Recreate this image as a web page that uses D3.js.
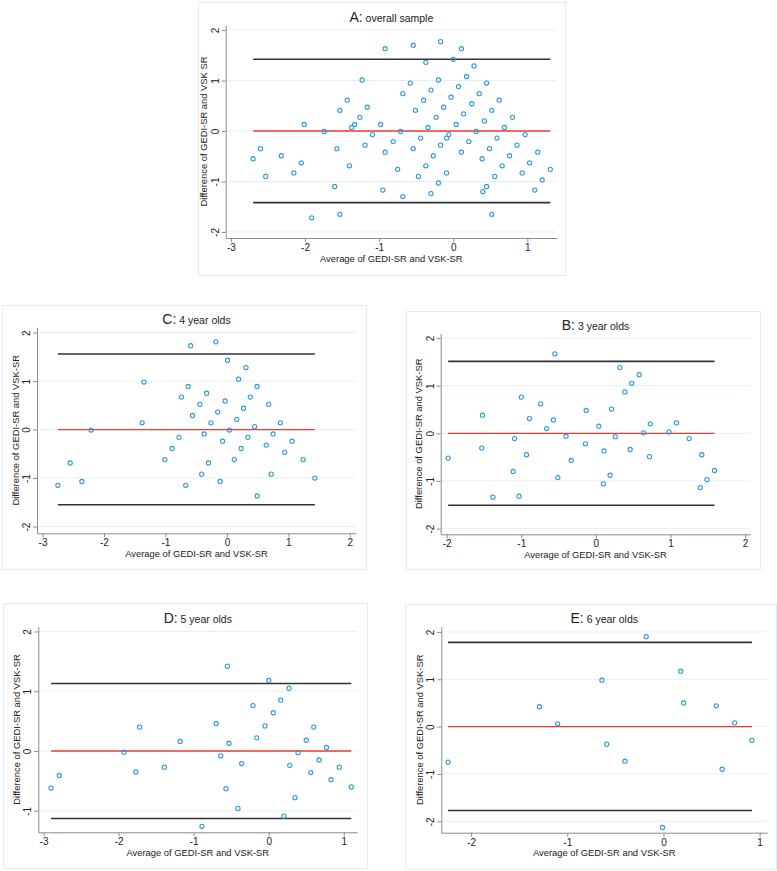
<!DOCTYPE html>
<html>
<head>
<meta charset="utf-8">
<script src="https://cdn.jsdelivr.net/npm/d3@7"></script>
<style>
  body { margin: 0; background: #fff; }
  text { font-family: "Liberation Sans", Arial, Helvetica, sans-serif; fill: #222; }
</style>
</head>
<body>
<div id="chart"></div>
<script>
// ---- data ----
const avgA = [-0.92,-0.54,-0.17,0.11,-0.37,0.00,0.28,-1.23,-0.20,0.18,0.45,-0.58,-0.68,-0.30,0.07,0.35,
  -1.43,-0.40,-0.03,0.62,-1.53,-1.16,-0.51,-0.13,0.25,0.52,-1.26,-0.23,0.14,0.80,-2.01,-1.37,-1.33,-0.98,
  -0.34,0.04,0.42,0.69,-1.74,-0.71,0.31,-1.09,-0.06,0.97,-0.81,-0.44,-0.09,0.59,-2.60,-1.57,-1.19,-0.54,
  -0.17,0.21,0.49,0.86,-2.70,-2.32,-0.92,-0.27,0.11,0.76,1.14,-2.05,-1.40,-0.37,0.39,0.66,1.03,-2.53,
  -2.15,-0.75,-0.47,-0.09,0.56,0.93,1.31,-1.60,-0.20,0.45,1.20,-0.95,-0.30,0.40,1.10,-0.68,-1.91,-1.53,0.52];
const diffA = [1.63,1.70,1.77,1.63,1.36,1.42,1.29,1.01,1.01,1.08,0.95,0.95,0.74,0.81,0.88,0.74,
  0.61,0.61,0.67,0.61,0.41,0.47,0.41,0.47,0.54,0.41,0.27,0.27,0.34,0.27,0.13,0.07,0.13,0.13,
  0.07,0.13,0.20,0.07,-0.01,-0.01,-0.01,-0.07,-0.07,-0.07,-0.21,-0.14,-0.14,-0.14,-0.35,-0.35,-0.28,-0.35,
  -0.28,-0.21,-0.35,-0.28,-0.55,-0.49,-0.42,-0.49,-0.42,-0.49,-0.42,-0.63,-0.69,-0.69,-0.55,-0.69,-0.63,-0.90,
  -0.83,-0.76,-0.90,-0.83,-0.90,-0.83,-0.76,-1.10,-1.03,-1.10,-0.97,-1.17,-1.24,-1.20,-1.17,-1.30,-1.72,-1.65,-1.65];

const avgC = [-2.75,-2.55,-2.36,-2.21,-1.35,-1.38,-0.59,-0.18,0.01,0.31,0.19,-0.63,0.49,-0.74,-0.33,0.38,
  -0.44,-0.03,0.68,-0.56,-0.15,0.27,0.16,-0.26,0.87,0.45,0.04,-0.78,-0.37,0.34,0.75,-0.89,-0.07,0.64,1.06,
  0.94,0.23,-1.01,-0.30,0.12,1.24,-0.41,0.72,-0.67,-0.11,1.43,0.49];
const diffC = [-1.15,-0.69,-1.07,-0.01,0.98,0.14,1.73,1.81,1.43,1.28,1.04,0.89,0.89,0.67,0.75,0.67,
  0.52,0.59,0.52,0.29,0.36,0.44,0.21,0.14,0.14,0.06,-0.01,-0.16,-0.09,-0.16,-0.09,-0.39,-0.24,-0.32,-0.24,
  -0.47,-0.39,-0.62,-0.69,-0.62,-0.62,-0.92,-0.92,-1.15,-1.07,-1.00,-1.37];

const avgB = [-1.98,-1.52,-1.53,-1.38,-1.11,-1.09,-1.03,-1.00,-0.93,-0.89,-0.74,-0.66,-0.57,-0.55,-0.51,-0.40,
  -0.33,-0.14,-0.13,0.04,0.10,0.11,0.19,0.21,0.26,0.32,0.39,0.46,0.48,0.58,0.64,0.72,0.73,0.98,1.08,1.25,
  1.40,1.42,1.49,1.59];
const diffB = [-0.52,0.38,-0.31,-1.34,-0.80,-0.11,-1.32,0.76,-0.45,0.31,0.62,0.10,0.28,1.67,-0.93,-0.06,
  -0.57,-0.22,0.48,0.15,-1.06,-0.37,-0.88,0.51,-0.07,1.38,0.87,-0.34,1.05,1.23,0.01,-0.49,0.20,0.03,0.22,-0.11,
  -1.14,-0.45,-0.97,-0.78];

const avgD = [-2.90,-2.79,-1.93,-1.77,-1.72,-1.39,-1.18,-0.89,-0.70,-0.64,-0.57,-0.55,-0.53,-0.41,-0.36,-0.21,
  -0.16,-0.05,0.00,0.06,0.16,0.20,0.27,0.28,0.35,0.39,0.50,0.56,0.60,0.67,0.77,0.83,0.94,1.10];
const diffD = [-0.62,-0.41,-0.02,-0.35,0.40,-0.27,0.16,-1.26,0.46,-0.08,-0.63,1.42,0.13,-0.96,-0.21,0.76,
  0.22,0.42,1.18,0.64,0.85,-1.09,1.05,-0.24,-0.78,-0.03,0.18,-0.36,0.40,-0.15,0.06,-0.48,-0.27,-0.60];

const avgE = [-2.24,-1.29,-1.10,-0.64,-0.59,-0.40,-0.18,-0.01,0.18,0.21,0.55,0.61,0.74,0.92];
const diffE = [-0.75,0.42,0.06,0.98,-0.37,-0.73,1.90,-2.13,1.17,0.50,0.44,-0.90,0.08,-0.29];

// mean difference and limits of agreement
const meanDiff = { A: 0, C: 0, B: 0, D: 0, E: 0 };
const loaA = [-1.42, 1.42];
const loaC = [-1.55, 1.56];
const loaB = [-1.51, 1.51];
const loaD = [-1.13, 1.13];
const loaE = [-1.77, 1.78];

// tick labels
const xTicksA = [-3, -2, -1, 0, 1];
const xTicksC = [-3, -2, -1, 0, 1, 2];
const xTicksB = [-2, -1, 0, 1, 2];
const xTicksD = [-3, -2, -1, 0, 1];
const xTicksE = [-2, -1, 0, 1];
const yTicks4 = [-2, -1, 0, 1, 2];
const yTicksD = [-1, 0, 1, 2];

const xTitle = 'Average of GEDI-SR and VSK-SR';

// ---- layout ----
const W = 777, H = 871;
const panels = [
  { key: 'A', letter: 'A:', sub: 'overall sample', avg: avgA, diff: diffA, loa: loaA,
    xTicks: xTicksA, yTicks: yTicks4, yTitle: 'Difference of GEDI-SR and VSK SR',
    box: [198, 2, 565, 275], plot: [225.7, 25, 557, 238], xDom: [-3.07, 1.40], yDom: [-2.12, 2.10] },
  { key: 'C', letter: 'C:', sub: '4 year olds', avg: avgC, diff: diffC, loa: loaC,
    xTicks: xTicksC, yTicks: yTicks4, yTitle: 'Difference of GEDI-SR and VSK-SR',
    box: [2, 305, 366, 569], plot: [37, 327.3, 356, 533.3], xDom: [-3.09, 2.10], yDom: [-2.14, 2.11] },
  { key: 'B', letter: 'B:', sub: '3 year olds', avg: avgB, diff: diffB, loa: loaB,
    xTicks: xTicksB, yTicks: yTicks4, yTitle: 'Difference of GEDI-SR and VSK-SR',
    box: [406, 311, 760, 569], plot: [440.7, 333.3, 750.3, 534.3], xDom: [-2.08, 2.07], yDom: [-2.12, 2.10] },
  { key: 'D', letter: 'D:', sub: '5 year olds', avg: avgD, diff: diffD, loa: loaD,
    xTicks: xTicksD, yTicks: yTicksD, yTitle: 'Difference of GEDI-SR and VSK-SR',
    box: [3, 603, 367, 868], plot: [38.3, 626.7, 357.3, 832.3], xDom: [-3.07, 1.18], yDom: [-1.36, 2.08] },
  { key: 'E', letter: 'E:', sub: '6 year olds', avg: avgE, diff: diffE, loa: loaE,
    xTicks: xTicksE, yTicks: yTicks4, yTitle: 'Difference of GEDI-SR and VSK-SR',
    box: [405, 604, 776, 869], plot: [441.3, 626.7, 767.3, 832.7], xDom: [-2.31, 1.08], yDom: [-2.24, 2.11] }
];

const svg = d3.select('#chart').append('svg')
  .attr('width', W)
  .attr('height', H)
  .style('background-color', 'white');

panels.forEach(p => {
  const [l, t, r, b] = p.plot;
  const x = d3.scaleLinear().domain(p.xDom).range([l, r]);
  const y = d3.scaleLinear().domain(p.yDom).range([b, t]);
  const g = svg.append('g').attr('class', 'panel-' + p.key);

  // outer frame
  g.append('rect')
    .attr('x', p.box[0] + 0.5).attr('y', p.box[1] + 0.5)
    .attr('width', p.box[2] - p.box[0]).attr('height', p.box[3] - p.box[1])
    .attr('fill', 'none').attr('stroke', '#e3ecf0');

  // gridlines
  g.selectAll('.grid')
    .data(p.yTicks)
    .enter().append('line')
      .attr('x1', l).attr('x2', r)
      .attr('y1', d => y(d)).attr('y2', d => y(d))
      .attr('stroke', '#e6f0f2').attr('stroke-width', 1);

  // mean and limits of agreement, drawn over the range of the averages
  const [xmin, xmax] = d3.extent(p.avg);
  const hlines = [
    { v: p.loa[1], c: '#333333', w: 1.6 },
    { v: p.loa[0], c: '#333333', w: 1.6 },
    { v: meanDiff[p.key], c: '#ee3a33', w: 1.3 }
  ];
  g.selectAll('.hline')
    .data(hlines)
    .enter().append('line')
      .attr('x1', x(xmin)).attr('x2', x(xmax))
      .attr('y1', d => y(d.v)).attr('y2', d => y(d.v))
      .attr('stroke', d => d.c).attr('stroke-width', d => d.w);

  // points
  g.selectAll('circle')
    .data(p.avg.map((a, i) => [a, p.diff[i]]))
    .enter().append('circle')
      .attr('cx', d => x(d[0]))
      .attr('cy', d => y(d[1]))
      .attr('r', 2.1)
      .attr('fill', 'none')
      .attr('stroke', '#2f9ad6')
      .attr('stroke-width', 1.1);

  // x axis
  const xa = g.append('g')
    .attr('transform', `translate(0,${b})`)
    .call(d3.axisBottom(x).tickValues(p.xTicks).tickSize(4).tickSizeOuter(0).tickPadding(2)
      .tickFormat(d => String(d)));
  xa.select('.domain').attr('stroke', '#8c8c8c');
  xa.selectAll('.tick line').attr('stroke', '#8c8c8c');
  xa.selectAll('.tick text').attr('font-size', 10).attr('fill', '#222');

  // y axis, labels rotated
  const ya = g.append('g')
    .attr('transform', `translate(${l},0)`)
    .call(d3.axisLeft(y).tickValues(p.yTicks).tickSize(4).tickSizeOuter(0)
      .tickFormat(d => String(d)));
  ya.select('.domain').attr('stroke', '#8c8c8c');
  ya.selectAll('.tick line').attr('stroke', '#8c8c8c');
  ya.selectAll('.tick text')
    .attr('font-size', 10).attr('fill', '#222')
    .attr('text-anchor', 'middle')
    .attr('x', 0).attr('y', -7).attr('dy', 0)
    .attr('transform', 'rotate(-90)');

  // title
  const title = g.append('text')
    .attr('x', (l + r) / 2).attr('y', t - 3.5)
    .attr('text-anchor', 'middle');
  title.append('tspan').attr('font-size', 14).text(p.letter);
  title.append('tspan').attr('font-size', 10.5).text(' ' + p.sub);

  // axis titles
  g.append('text')
    .attr('x', (l + r) / 2).attr('y', b + 23.5)
    .attr('text-anchor', 'middle').attr('font-size', 9.4)
    .text(xTitle);
  g.append('text')
    .attr('transform', `translate(${l - 18.5},${(t + b) / 2}) rotate(-90)`)
    .attr('text-anchor', 'middle').attr('font-size', 9.4)
    .text(p.yTitle);
});
</script>
</body>
</html>
